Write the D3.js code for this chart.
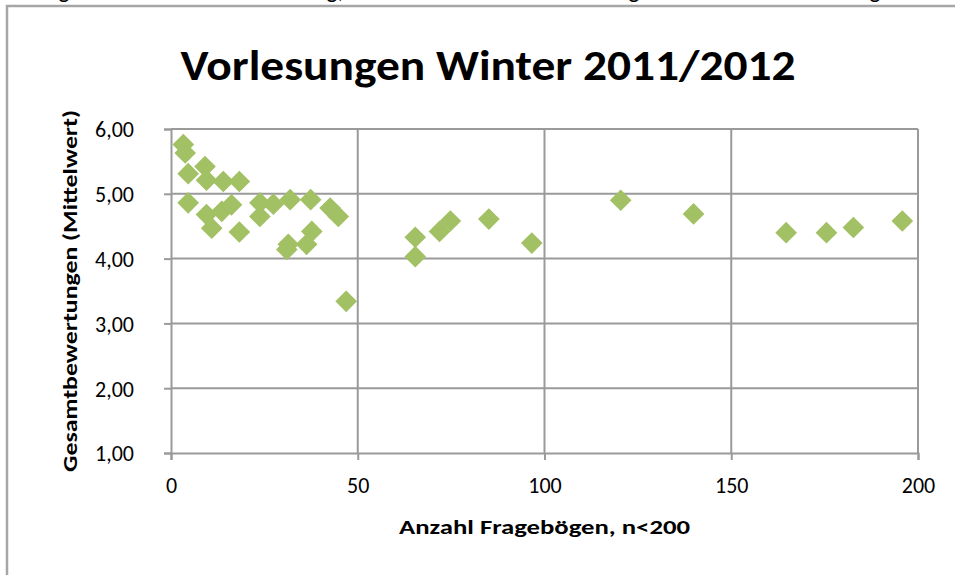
<!DOCTYPE html>
<html>
<head>
<meta charset="utf-8">
<script src="https://cdn.jsdelivr.net/npm/d3@7"></script>
<style>
  body { margin: 0; background: #fff; }
  svg { display: block; font-family: Carlito, Calibri, Lato, sans-serif; }
</style>
</head>
<body>
<svg id="chart"></svg>
<script>
// data: number of questionnaires vs. mean rating
const anzahl = [3.3, 3.8, 4.6, 9.1, 9.5, 14.0, 18.3, 4.6, 9.5, 10.9, 13.6, 16.2, 18.3,
  23.8, 23.8, 27.4, 31.9, 37.4, 42.6, 44.8, 37.7, 36.3, 31.4, 31.0, 46.9,
  65.4, 65.4, 71.9, 74.8, 85.1, 96.6, 120.4, 139.9, 164.7, 175.5, 182.7, 195.8];
const bewertung = [5.76, 5.63, 5.31, 5.42, 5.21, 5.19, 5.19, 4.86, 4.68, 4.47, 4.73, 4.83, 4.41,
  4.86, 4.65, 4.84, 4.91, 4.91, 4.78, 4.65, 4.42, 4.22, 4.22, 4.14, 3.34,
  4.33, 4.03, 4.42, 4.58, 4.61, 4.24, 4.90, 4.69, 4.40, 4.40, 4.48, 4.58];
const xTicks = [0, 50, 100, 150, 200];
const yTicks = [1, 2, 3, 4, 5, 6];
// cut-off text from the line above the chart
const cutText = [{ t: 'g', x: 64 }, { t: 'g,', x: 335 }, { t: 'g', x: 634 }, { t: 'g', x: 875 }];

const width = 955, height = 575;
const margin = { top: 129, right: 37, bottom: 122, left: 171 };
const gray = '#9a9a9a';

const svg = d3.select('#chart').attr('width', width).attr('height', height);

svg.selectAll('.cut').data(cutText).join('text')
  .attr('class', 'cut')
  .attr('x', d => d.x).attr('y', -2)
  .attr('text-anchor', 'middle')
  .style('font-size', '24px')
  .text(d => d.t);

// outer chart frame (continues past the picture)
svg.append('path')
  .attr('d', `M7,${height + 5} L7,6 L${width + 5},6`)
  .attr('fill', 'none').attr('stroke', '#a6a6a6').attr('stroke-width', 2.5);

const x = d3.scaleLinear().domain([0, 200]).range([margin.left, width - margin.right]);
const y = d3.scaleLinear().domain([1, 6]).range([height - margin.bottom, margin.top]);

// grid
svg.append('g').selectAll('line').data(yTicks.slice(1)).join('line')
  .attr('x1', x(0)).attr('x2', x(200))
  .attr('y1', d => y(d)).attr('y2', d => y(d))
  .attr('stroke', gray).attr('stroke-width', 2);
svg.append('g').selectAll('line').data(xTicks.slice(1)).join('line')
  .attr('x1', d => x(d)).attr('x2', d => x(d))
  .attr('y1', y(1)).attr('y2', y(6))
  .attr('stroke', gray).attr('stroke-width', 2);

const fmt = d3.format('.2f');
const yAxis = svg.append('g')
  .attr('transform', `translate(${x(0)},0)`)
  .call(d3.axisLeft(y).tickValues(yTicks).tickSize(7).tickPadding(30)
    .tickFormat(d => fmt(d).replace('.', ',')));
const xAxis = svg.append('g')
  .attr('transform', `translate(0,${y(1)})`)
  .call(d3.axisBottom(x).tickValues(xTicks).tickSize(7).tickPadding(17));

[yAxis, xAxis].forEach(a => {
  a.select('.domain').attr('stroke', gray).attr('stroke-width', 2);
  a.selectAll('.tick line').attr('stroke', gray).attr('stroke-width', 2);
  a.selectAll('.tick text').attr('fill', '#000')
    .style('font-size', '22px').style('font-family', 'Carlito, Calibri, Lato, sans-serif');
});
yAxis.selectAll('.tick text').attr('dy', '0.36em').attr('x', -37);

// markers
svg.append('g').selectAll('path').data(anzahl).join('path')
  .attr('transform', (d, i) => `translate(${x(d)},${y(bewertung[i])}) rotate(45)`)
  .attr('d', d3.symbol(d3.symbolSquare, 235))
  .attr('fill', '#a2c064');

// titles
svg.append('text')
  .attr('x', 488).attr('y', 80)
  .attr('text-anchor', 'middle')
  .attr('textLength', 615).attr('lengthAdjust', 'spacingAndGlyphs')
  .style('font-size', '42px').style('font-weight', 'bold')
  .text('Vorlesungen Winter 2011/2012');

svg.append('text')
  .attr('x', (x(0) + x(200)) / 2).attr('y', 534)
  .attr('text-anchor', 'middle')
  .attr('textLength', 291).attr('lengthAdjust', 'spacingAndGlyphs')
  .style('font-size', '21px').style('font-weight', 'bold')
  .text('Anzahl Fragebögen, n<200');

svg.append('text')
  .attr('transform', `translate(77,${(y(1) + y(6)) / 2}) rotate(-90)`)
  .attr('text-anchor', 'middle')
  .attr('textLength', 362).attr('lengthAdjust', 'spacingAndGlyphs')
  .style('font-size', '21px').style('font-weight', 'bold')
  .text('Gesamtbewertungen (Mittelwert)');
</script>
</body>
</html>
